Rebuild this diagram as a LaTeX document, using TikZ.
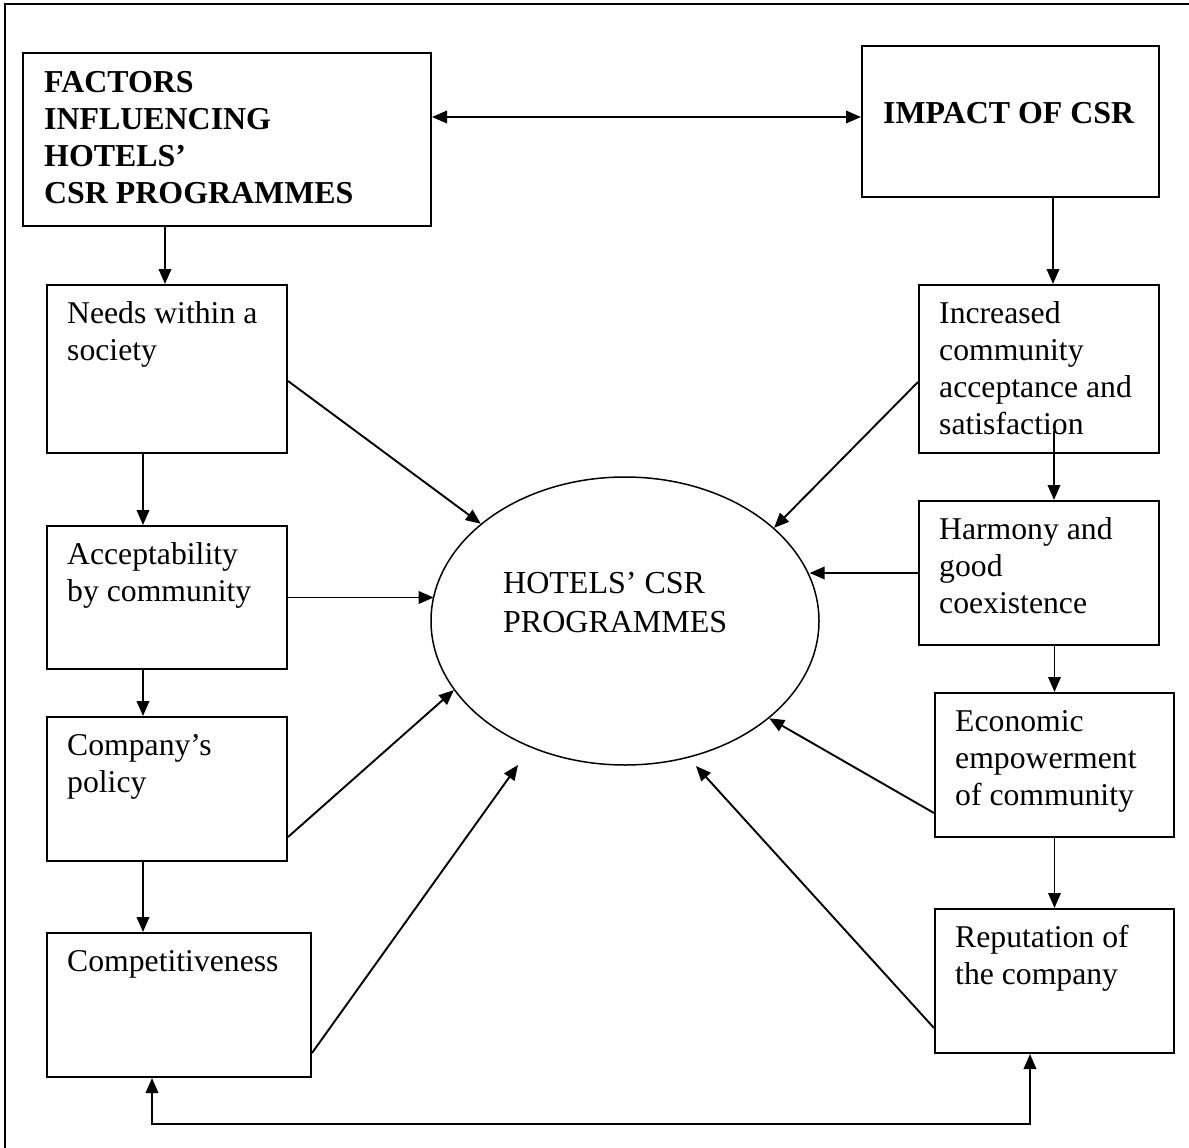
\documentclass[tikz,border=0pt]{standalone}
\usepackage{fontspec}
\setmainfont{Liberation Serif}
\usetikzlibrary{arrows.meta,shapes.geometric,calc}
\newcommand{\boxfont}{\fontsize{31.7}{37}\selectfont}
\newcommand{\headfont}{\fontsize{31.9}{37}\selectfont\bfseries}
\newcommand{\csrfont}{\fontsize{32}{39}\selectfont}
\begin{document}
\begin{tikzpicture}[x=1pt,y=-1pt,
  >={Triangle[length=15pt,width=12.5pt]},
  box/.style={draw, line width=2pt, inner sep=0pt, rectangle},
  txt/.style={anchor=north west, inner sep=0pt, align=left, font=\boxfont},
  con/.style={line width=1.9pt, ->},
  ]
\useasboundingbox (0,0) rectangle (1189,1148);
% frame (top and left edges)
\draw[line width=2.5pt] (5,1148) -- (5,4) -- (1189,4);

% boxes
\node[box, minimum width=408pt, minimum height=173pt] (fac) at (227,139.5) {};
\node[box, minimum width=297pt, minimum height=151pt] (imp) at (1010.5,121.5) {};
\node[box, minimum width=240pt, minimum height=168pt] (needs) at (167,369) {};
\node[box, minimum width=240pt, minimum height=143pt] (accept) at (167,597.5) {};
\node[box, minimum width=240pt, minimum height=144pt] (policy) at (167,789) {};
\node[box, minimum width=264pt, minimum height=144pt] (compet) at (179,1005) {};
\node[box, minimum width=240pt, minimum height=168pt] (incr) at (1039,369) {};
\node[box, minimum width=240pt, minimum height=144pt] (harm) at (1039,573) {};
\node[box, minimum width=239pt, minimum height=144pt] (econ) at (1054.5,765) {};
\node[box, minimum width=239pt, minimum height=144pt] (rep) at (1054.5,981) {};
\node[draw, ellipse, line width=1.5pt, minimum width=388pt, minimum height=288pt, inner sep=0pt] (csr) at (625,621) {};

% texts
\node[txt, font=\headfont] (fac-t) at ($(fac.north west)+(22,14)$) {\rule{0pt}{26pt}FACTORS\\INFLUENCING\\HOTELS’\\CSR PROGRAMMES};
\node[anchor=base west, inner sep=0pt, font=\headfont] (imp-t) at ($(imp.north west)+(22,78)$) {IMPACT OF CSR};
\node[txt] (needs-t) at ($(needs.north west)+(21,13.5)$) {\rule{0pt}{26pt}Needs within a\\society};
\node[txt] (accept-t) at ($(accept.north west)+(21,13.5)$) {\rule{0pt}{26pt}Acceptability\\by community};
\node[txt] (policy-t) at ($(policy.north west)+(21,13.5)$) {\rule{0pt}{26pt}Company’s\\policy};
\node[txt] (compet-t) at ($(compet.north west)+(21,13.5)$) {\rule{0pt}{26pt}Competitiveness};
\node[txt] (incr-t) at ($(incr.north west)+(21,13.5)$) {\rule{0pt}{26pt}Increased\\community\\acceptance and\\satisfaction};
\node[txt] (harm-t) at ($(harm.north west)+(21,13.5)$) {\rule{0pt}{26pt}Harmony and\\good\\coexistence};
\node[txt] (econ-t) at ($(econ.north west)+(21,13.5)$) {\rule{0pt}{26pt}Economic\\empowerment\\of community};
\node[txt] (rep-t) at ($(rep.north west)+(21,13.5)$) {\rule{0pt}{26pt}Reputation of\\the company};
\node[txt, font=\csrfont] (csr-t) at ($(csr.center)+(-122,-54)$) {\rule{0pt}{26pt}HOTELS’ CSR\\PROGRAMMES};

% top double arrow
\draw[line width=1.9pt, <->] ($(fac.east)+(0,-22.5)$) -- ($(imp.west)+(0,-4.5)$);

% vertical chains
\draw[con] ($(needs.north |- fac.south)+(-2,0)$) -- ($(needs.north)+(-2,0)$);
\draw[con] ($(needs.south)+(-24,0)$) -- ($(accept.north)+(-24,0)$);
\draw[con] ($(accept.south)+(-24,0)$) -- ($(policy.north)+(-24,0)$);
\draw[con] ($(policy.south)+(-24,0)$) -- ($(compet.north -| policy.south)+(-24,0)$);
\draw[con] ($(incr.north |- imp.south)+(14,0)$) -- ($(incr.north)+(14,0)$);
\draw[con] ($(incr.south)+(15,-23)$) -- ($(harm.north)+(15,0)$);
\draw[con] (harm.south -| econ.north) -- (econ.north);
\draw[con] (econ.south) -- (rep.north);

% connectors into the ellipse
\coordinate (ctip) at (518,765);
\coordinate (rtip) at (696,766);
\draw[con] ($(needs.east)+(0,12)$) -- (csr.146.9);
\draw[con] (accept.east) -- (accept.east -| csr.172.85);
\draw[con] ($(policy.east)+(0,48)$) -- (csr.202.8);
\draw[con] ($(compet.east)+(0,48)$) -- (ctip);
\draw[con] ($(incr.west)+(0,13)$) -- (csr.32.9);
\draw[con] (harm.west) -- (harm.west -| csr.14.7);
\draw[con] ($(econ.west)+(0,48)$) -- (csr.326.1);
\draw[con] ($(rep.west)+(0,47)$) -- (rtip);

% bottom feedback connector
\coordinate (bl) at (152,1124);
\coordinate (br) at (1030,1124);
\draw[line width=1.9pt, <->] (compet.south -| bl) -- (bl) -- (br) -- (rep.south -| br);
\end{tikzpicture}
\end{document}
